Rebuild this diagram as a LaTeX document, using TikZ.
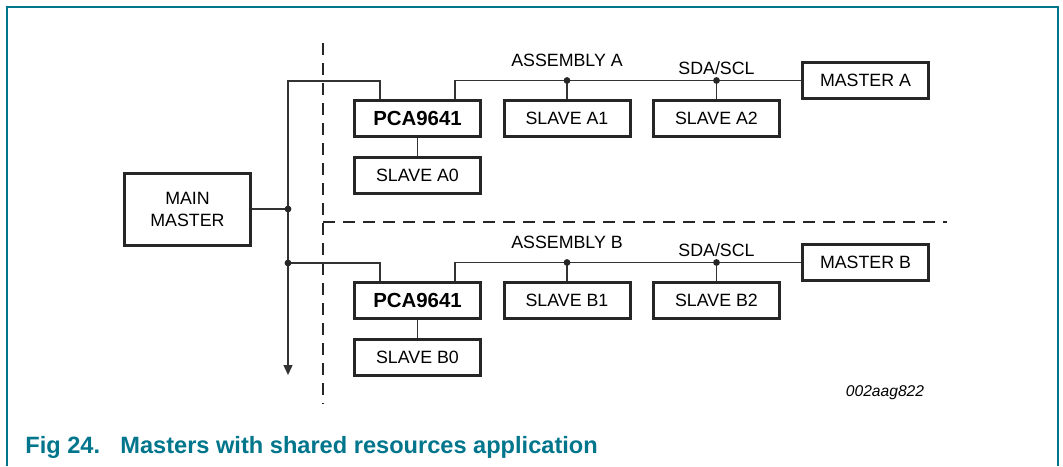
\documentclass[tikz,border=0pt]{standalone}
\usepackage{fontspec}
\setsansfont{Liberation Sans}
\usepackage{tikz}
\usetikzlibrary{arrows.meta}
\usetikzlibrary{positioning}
\usepackage{xcolor}

\begin{document}
\begin{tikzpicture}[x=.5pt, y=-.5pt, font=\sffamily]

    % style
    \definecolor{nxpteal}{RGB}{0, 117, 139}
    \tikzset{box/.style={rectangle, draw=black!85, line width=1.5pt, minimum width=63pt, minimum height=18pt, inner sep=0pt, font=\sffamily\fontsize{8.9}{11}\selectfont}};
    \tikzset{wire/.style={draw=black!80, line width=.7pt}};
    \tikzset{dot/.style={circle, fill=black!85, inner sep=0pt, minimum size=3.4pt}};
    \tikzset{divider/.style={draw=black!85, line width=1.2pt, dash pattern=on 6pt off 4pt}};
    \tikzset{buslabel/.style={font=\sffamily\fontsize{8.9}{11}\selectfont, inner sep=0pt}};
    \tikzset{caption/.style={anchor=west, text=nxpteal, font=\sffamily\bfseries\fontsize{11.8}{14}\selectfont, inner sep=0pt}};

    % fixed page size and frame
    \useasboundingbox (0,0) rectangle (1063,466);
    \draw [nxpteal, line width=1pt] (7,466) -- (7,7) -- (1058,7) -- (1058,466);

    % reference coordinates
    \coordinate (BusTop) at (288,81);
    \coordinate (BusEnd) at (288,375);
    \coordinate (BusB) at (288,263);
    \coordinate (DivTop) at (323,43);
    \coordinate (DivBottom) at (323,404);
    \coordinate (DivMid) at (323,222);
    \coordinate (DivRight) at (947,222);

    % assembly dividers
    \draw [divider] (DivTop) -- (DivBottom);
    \draw [divider] (DivMid) -- (DivRight);

    % main master
    \node [box, minimum height=36pt, align=center] (main) at (187.5,209) {MAIN\\MASTER};

    % assemblies A and B
    \foreach \g/\dy in {A/0, B/182}
    {
        \node [box, font=\sffamily\bfseries\fontsize{10.2}{12}\selectfont] (pca\g) at (417.5,{118.5+\dy}) {PCA9641};
        \node [box, below=9pt of pca\g] (slave\g0) {SLAVE \g0};
        \node [box] (slave\g1) at (567,{118.5+\dy}) {SLAVE \g1};
        \node [box] (slave\g2) at (716.5,{118.5+\dy}) {SLAVE \g2};
        \node [box] (master\g) at (865.5,{80.5+\dy}) {MASTER \g};
        \draw [wire] (pca\g.south) -- (slave\g0.north);
        \draw [wire] ([shift={(37.5,0)}]pca\g.north) |- (master\g.west);
        \draw [wire] (slave\g1.north) -- (slave\g1.north |- master\g.west) node [dot] (tap\g1) {};
        \draw [wire] (slave\g2.north) -- (slave\g2.north |- master\g.west) node [dot] (tap\g2) {};
        \node [buslabel] (asm\g) at (567,{60+\dy}) {ASSEMBLY \g};
        \node [buslabel] (sda\g) at (716.5,{68+\dy}) {SDA/SCL};
    }

    % shared bus from the main master
    \draw [wire, -{Triangle[width=4.5pt, length=5pt]}] ([shift={(-37.5,0)}]pcaA.north) |- (BusTop) -- (BusEnd);
    \draw [wire] (main.east) -- (main.east -| BusTop) node [dot] (tapMain) {};
    \draw [wire] ([shift={(-37.5,0)}]pcaB.north) |- (BusB) node [dot] (tapB) {};

    % drawing number and caption
    \node [font=\sffamily\itshape\fontsize{7.8}{9}\selectfont, inner sep=0pt] (drawno) at (885,393) {002aag822};
    \node [caption] (figno) at (25,447) {Fig 24.};
    \node [caption] (figtitle) at (120,447) {Masters with shared resources application};

\end{tikzpicture}
\end{document}
